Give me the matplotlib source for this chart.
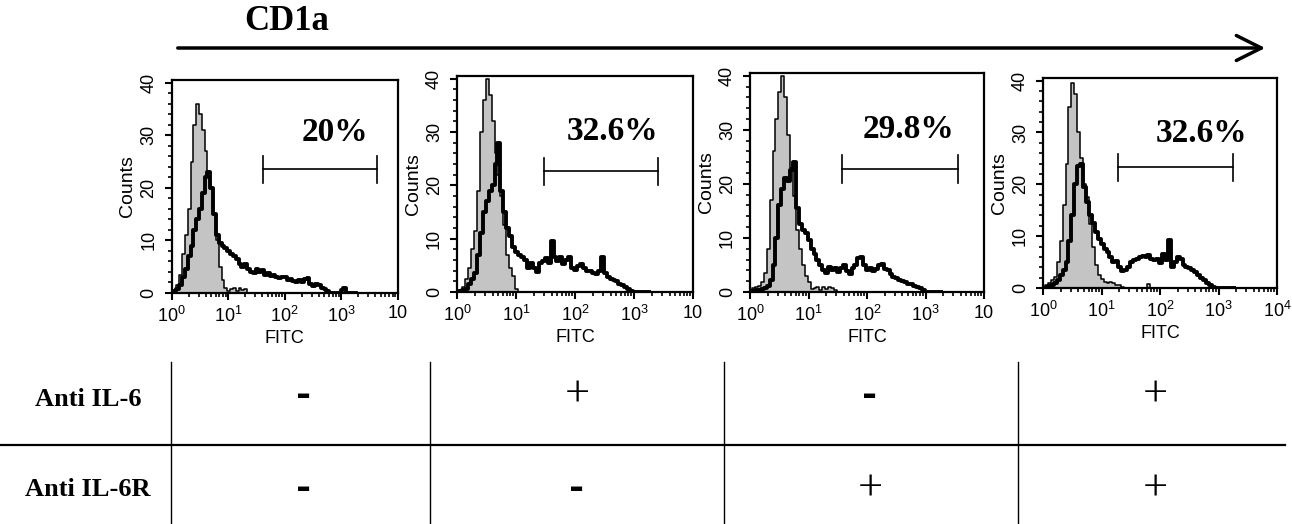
import numpy as np
import matplotlib
matplotlib.use("Agg")
import matplotlib.pyplot as plt
from matplotlib.patches import FancyArrowPatch
from matplotlib.lines import Line2D
from matplotlib.ticker import MultipleLocator, FixedLocator, NullFormatter

# ---------------- data ----------------
# histogram channels: log10(FITC) from 0.00 to 3.25 in steps of 0.05
log_step = 0.05

iso1 = [0, 0.5, 1.5, 3.5, 7.5, 11, 16, 25, 32, 36, 34, 31, 27, 23, 20, 15, 10, 5, 2.5, 1,
        0.3, 0.8, 1, 0.4, 0.9, 0.5, 0.8, 0, 0, 0, 0, 0, 0, 0, 0, 0, 0, 0, 0, 0,
        0, 0, 0, 0, 0, 0, 0, 0, 0, 0, 0, 0, 0, 0, 0, 0, 0, 0, 0, 0,
        0, 0, 0, 0, 0, 0]
smp1 = [0, 0.3, 0.8, 1.5, 3, 4.5, 7, 9, 12, 14, 16, 19, 22, 23, 20, 15, 11, 9.5, 9, 8.5,
        8, 7.5, 7, 6.5, 5.5, 5, 5.5, 4.5, 4, 3.8, 4.5, 4, 4.4, 3.5, 3.8, 3.2, 3.4, 3, 2.8, 3,
        3.1, 2.5, 2.7, 2.3, 2, 2.5, 2, 2.7, 2.8, 1.8, 1.3, 1.8, 1.5, 1, 0.8, 0.3, 0, 0, 0, 0,
        0.5, 1, 0, 0, 0, 0]

iso2 = [0, 0.3, 1, 2.5, 4.5, 8, 11.5, 19, 30, 36, 40, 37, 32, 26, 22, 18, 12.5, 7, 4.5, 3,
        0.5, 0, 0, 0, 0, 0, 0, 0, 0, 0, 0, 0, 0, 0, 0, 0, 0, 0, 0, 0,
        0, 0, 0, 0, 0, 0, 0, 0, 0, 0, 0, 0, 0, 0, 0, 0, 0, 0, 0, 0,
        0, 0, 0, 0, 0, 0]
smp2 = [0, 0.2, 0.3, 0.5, 1.5, 2.5, 3.5, 7, 11, 15, 17, 19, 20, 24, 28, 19, 15, 12, 10.5, 8.5,
        7.5, 7, 6.5, 6, 4.5, 5.5, 4.5, 3.7, 5.5, 5.8, 6.3, 5.5, 9.6, 6.5, 5.9, 6.5, 5.3, 6, 6.5, 4.5,
        4.2, 4.8, 5.3, 4.5, 4, 4, 3.6, 3.4, 4, 6.5, 3.5, 2.8, 2.5, 2.2, 2, 1.5, 1.4, 1, 0.6, 0.2,
        0, 0, 0, 0, 0, 0]

iso3 = [0, 0.8, 1, 1.2, 1.8, 3.5, 8, 17, 26, 32, 37, 40, 36, 29, 23, 17.7, 11.5, 8, 5, 3,
        1.8, 0.5, 0.8, 1, 0.3, 1, 0.6, 1, 0.8, 0.3, 0, 0, 0, 0, 0, 0, 0, 0, 0, 0,
        0, 0, 0, 0, 0, 0, 0, 0, 0, 0, 0, 0, 0, 0, 0, 0, 0, 0, 0, 0,
        0, 0, 0, 0, 0, 0]
smp3 = [0, 0.2, 0.3, 0.4, 0.6, 0.8, 1.2, 2.2, 5, 10, 16, 19, 21, 20.5, 22.5, 24, 15.5, 12.5, 11.5, 11,
        9.6, 8, 7, 5.9, 5, 4, 3.5, 4.7, 4, 4.5, 3.7, 4.5, 5, 3.8, 3.4, 4.5, 5, 6.2, 6.5, 5,
        4, 4.5, 3.8, 4.2, 5, 5.2, 4.2, 4, 3.3, 2.8, 2.6, 2.2, 2, 1.8, 1.5, 1.4, 1.2, 1, 0.7, 0.4,
        0, 0, 0, 0, 0, 0]

iso4 = [0, 0.5, 1, 1.5, 2.2, 5, 9, 16, 24, 35, 39.5, 37.5, 30, 25, 20, 17.5, 12.4, 8, 4.5, 2.6,
        1.8, 1.2, 1, 1.1, 0.9, 0.6, 0.5, 0.2, 0, 0, 0, 0, 0, 0, 0, 0, 0.8, 0, 0, 0,
        0, 0, 0, 0, 0, 0, 0, 0, 0, 0, 0, 0, 0, 0, 0, 0, 0, 0, 0, 0,
        0, 0, 0, 0, 0, 0]
smp4 = [0, 0, 0.3, 0.5, 1, 1.5, 2.5, 3.5, 5, 9, 14, 20, 23.5, 24, 19.5, 16.5, 14, 12.5, 10.8, 9.5,
        8.5, 7.5, 7, 6, 5, 5.2, 4, 3.3, 3.5, 4, 5, 5.4, 5.5, 6, 6.2, 6, 6.3, 5.6, 5.4, 5.5,
        4.8, 6.5, 5.4, 9.2, 4.1, 5, 6, 5.5, 4.5, 4.1, 3.8, 3.5, 3, 2.5, 2, 1.5, 1, 0.5, 0.2, 0,
        0, 0, 0, 0, 0, 0]

isotype = [iso1, iso2, iso3, iso4]
sample = [smp1, smp2, smp3, smp4]
pct_labels = ["20%", "32.6%", "29.8%", "32.6%"]
gate_lo = [41, 30, 37, 19]
gate_hi = [4270, 2560, 3550, 1780]
gate_y = [23.5, 22.6, 22.8, 23.3]
pct_x = [780, 440, 510, 520]
pct_y = [30.6, 30.0, 30.0, 29.8]

row_labels = ["Anti IL-6", "Anti IL-6R"]
anti_il6 = ["-", "+", "-", "+"]
anti_il6r = ["-", "-", "+", "+"]

# ---------------- layout ----------------
W, H = 1292, 524
fig = plt.figure(figsize=(W / 100, H / 100), dpi=100)
fig.patch.set_facecolor("white")

def fx(px):
    return px / W

def fy(py):
    return 1 - py / H

panel_px = [(171.5, 80, 398, 293), (457, 76, 693, 292), (750, 73, 984, 292), (1043, 78, 1277, 288)]
sans = ["Liberation Sans", "DejaVu Sans"]
plt.rcParams["mathtext.fontset"] = "custom"
plt.rcParams["mathtext.rm"] = "Liberation Sans"
plt.rcParams["mathtext.default"] = "rm"

for k, (l, t, r, b) in enumerate(panel_px):
    ax = fig.add_axes([fx(l), fy(b), fx(r) - fx(l), fy(t) - fy(b)])
    iso = np.array(isotype[k], dtype=float)
    smp = np.array(sample[k], dtype=float)
    x = 10 ** (np.arange(len(iso)) * log_step + 0.01)
    ax.fill_between(x, 0, iso, step="mid", color="#c4c4c4", lw=0, zorder=1)
    ax.step(x, iso, where="mid", color="black", lw=1.1, zorder=2)
    ax.step(x, smp, where="mid", color="black", lw=2.8, zorder=3)
    ax.set_xscale("log")
    ax.set_xlim(1, 1e4)
    ax.set_ylim(0, 40.5)
    ax.set_xticks([1, 10, 100, 1000, 10000])
    last = "$10^4$" if k == 3 else "10"
    ax.set_xticklabels(["$10^0$", "$10^1$", "$10^2$", "$10^3$", last],
                       family=sans, fontsize=13)
    ax.xaxis.set_minor_locator(FixedLocator([m * 10 ** d for d in range(4) for m in range(2, 10)]))
    ax.xaxis.set_minor_formatter(NullFormatter())
    ax.set_yticks([0, 10, 20, 30, 40])
    ax.set_yticklabels(["0", "10", "20", "30", "40"], family=sans, fontsize=13,
                       rotation=90, va="center")
    ax.yaxis.set_minor_locator(MultipleLocator(2))
    ax.tick_params(which="major", direction="out", length=5, width=1.5)
    ax.tick_params(axis="x", which="major", pad=4)
    ax.tick_params(axis="y", which="major", pad=5)
    ax.tick_params(which="minor", direction="out", length=3, width=1.2)
    for s in ax.spines.values():
        s.set_linewidth(1.6)
    ax.set_xlabel("FITC", family=sans, fontsize=13, labelpad=3)
    ax.set_ylabel("Counts", family=sans, fontsize=14, labelpad=3)
    # gate marker
    ax.plot([gate_lo[k], gate_hi[k]], [gate_y[k], gate_y[k]], color="black", lw=1.2)
    for gx in (gate_lo[k], gate_hi[k]):
        ax.plot([gx, gx], [gate_y[k] - 2.6, gate_y[k] + 2.6], color="black", lw=1.2)
    ax.text(pct_x[k], pct_y[k], pct_labels[k], family="Liberation Serif", weight="bold",
            fontsize=24, ha="center", va="center")

# title and arrow
fig.text(fx(287), fy(22), "CD1a", family="Liberation Serif", weight="bold",
         fontsize=25, ha="center", va="center")
arrow = FancyArrowPatch((fx(175), fy(48)), (fx(1268), fy(48)), transform=fig.transFigure,
                        arrowstyle="->,head_length=0.9,head_width=0.45", mutation_scale=20,
                        lw=2.5, color="black")
fig.add_artist(arrow)

# table
fig.add_artist(Line2D([fx(0), fx(1285)], [fy(445), fy(445)], transform=fig.transFigure,
                      color="black", lw=1.6))
for vx in (171, 430, 724, 1018):
    fig.add_artist(Line2D([fx(vx), fx(vx)], [fy(362), fy(524)], transform=fig.transFigure,
                          color="black", lw=1.0))
row_py = [400, 490]
for lab, py in zip(row_labels, row_py):
    fig.text(fx(88), fy(py), lab, family="Liberation Serif", weight="bold",
             fontsize=19, ha="center", va="center")
col_px = [304, 577, 870, 1155]
for signs, py in zip([anti_il6, anti_il6r], [396, 489]):
    for s, cx in zip(signs, col_px):
        if s == "+":
            fig.text(fx(cx), fy(py), "+", family="Liberation Serif", fontsize=32,
                     ha="center", va="center")
        else:
            fig.text(fx(cx), fy(py), "-", family="DejaVu Sans", weight="bold", fontsize=26,
                     ha="center", va="center")

fig.savefig("out.png", dpi=100)
